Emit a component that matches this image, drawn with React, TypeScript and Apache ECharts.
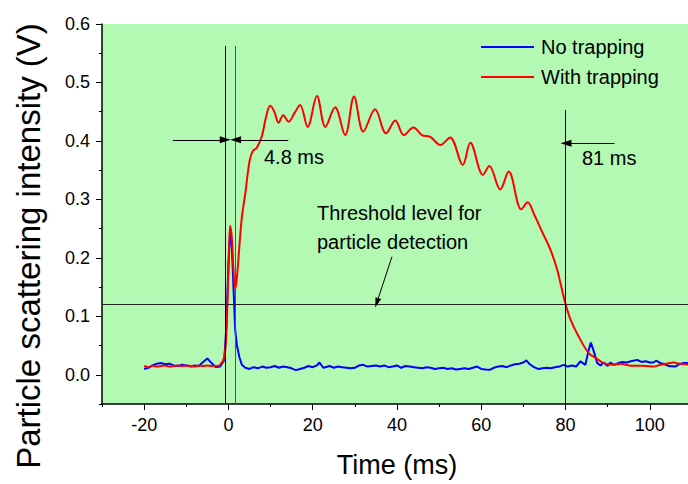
import React, { useEffect, useRef } from "react";
import * as echarts from "echarts";

const blueTime = [
  -20, -19, -18, -17, -16, -15, -14, -13, -12, -11, -10, -9, -8, -7, -6, -5, -4, -3, -2, -1, -0.5, 0, 0.4, 0.8, 1.2, 1.6, 2.0, 2.6, 3.2,
  4, 5, 6, 7, 8, 9, 10, 11, 12, 13, 14, 15, 16, 17, 18, 19, 20, 21, 21.6, 22.5, 23, 24, 25, 26, 27, 28, 29, 30, 31, 32, 33, 34, 35,
  36, 37, 38, 39, 40, 41, 42, 43, 44, 45, 46, 47, 48, 49, 50, 51, 52, 53, 54, 55, 56, 57, 58, 59, 60, 61, 62, 63, 64, 65, 66, 67,
  68, 69, 70, 70.7, 71.5, 72.5, 73.6, 74.5, 75.5, 76.5, 77.5, 78.5, 79.5, 80.5, 81.5, 82.5, 83.5, 84.7, 85.4, 86.0, 86.7, 87.5,
  88.3, 89, 90, 90.6, 91.5, 92.5, 93.5, 94.5, 95.5, 97, 98, 99, 100, 100.8, 101.5, 102.5, 103.5, 104.5, 106, 107, 108, 109, 110,
];
const blueValues = [
  0.010, 0.012, 0.016, 0.019, 0.020, 0.018, 0.019, 0.016, 0.015, 0.017, 0.016, 0.014, 0.016, 0.015, 0.022, 0.028, 0.020, 0.013,
  0.014, 0.025, 0.08, 0.19, 0.24, 0.22, 0.15, 0.077, 0.051, 0.03, 0.017,
  0.012, 0.010, 0.013, 0.011, 0.014, 0.012, 0.013, 0.015, 0.012, 0.014, 0.013, 0.011, 0.008, 0.010, 0.012, 0.015, 0.013, 0.016,
  0.021, 0.012, 0.013, 0.015, 0.012, 0.014, 0.013, 0.012, 0.011, 0.012, 0.016, 0.017, 0.014, 0.015, 0.016,
  0.014, 0.016, 0.013, 0.014, 0.016, 0.012, 0.015, 0.014, 0.013, 0.012, 0.011, 0.013, 0.012, 0.010, 0.011, 0.012, 0.010, 0.011,
  0.009, 0.010, 0.011, 0.010, 0.012, 0.014, 0.010, 0.009, 0.0085, 0.012, 0.014, 0.015, 0.013, 0.016,
  0.018, 0.019, 0.021, 0.0245, 0.018, 0.013, 0.0097, 0.011, 0.012, 0.011, 0.013, 0.014, 0.017, 0.014, 0.016, 0.014, 0.023, 0.017,
  0.04, 0.055, 0.04, 0.02,
  0.016, 0.021, 0.015, 0.021, 0.017, 0.020, 0.022, 0.021, 0.023, 0.0255, 0.022, 0.023, 0.021, 0.021, 0.024, 0.020, 0.018, 0.015,
  0.014, 0.018, 0.020, 0.020, 0.018,
];

const redTime = [
  -20, -19, -18, -17, -16, -15, -14, -13, -12, -11, -10, -9, -8, -7, -6, -5, -4, -3, -2, -1, -0.5, 0, 0.4, 0.8, 1.2, 1.6, 2.0, 2.6,
  3.2, 4.0, 5.0, 5.8, 6.7, 7.9, 8.9, 9.9, 10.9, 11.9, 13.0, 14.3, 15.7, 17.0, 18.8, 21.0, 23.0, 25.3, 27.7, 29.8, 32.0, 34.8, 37.4,
  39.6, 41.6, 43.9, 45.9, 47.9, 50.3, 52.6, 55.6, 57.4, 60.4, 61.9, 64.5, 66.5, 69.5, 71.0, 72.5, 74.4, 76.4, 78.0, 79.0, 80, 81.2,
  83.1, 85.5, 87.5, 89.0, 91.3, 93, 95, 97, 99, 100.8, 102.5, 104, 105.6, 107, 108.5, 110,
];
const redValues = [
  0.015, 0.013, 0.016, 0.014, 0.015, 0.016, 0.014, 0.015, 0.016, 0.015, 0.016, 0.015, 0.014, 0.016, 0.015, 0.016, 0.015, 0.015,
  0.017, 0.03, 0.07, 0.18, 0.255, 0.235, 0.18, 0.147, 0.165, 0.22,
  0.27, 0.31, 0.365, 0.383, 0.388, 0.407, 0.44, 0.46, 0.45, 0.431, 0.444, 0.433, 0.448, 0.4615, 0.424, 0.477, 0.424, 0.4575, 0.41,
  0.476, 0.416, 0.454, 0.413,
  0.435, 0.41, 0.423, 0.41, 0.407, 0.393, 0.406, 0.359, 0.397, 0.342, 0.357, 0.317, 0.3475, 0.283, 0.295, 0.275, 0.245, 0.214,
  0.18, 0.15, 0.121, 0.094,
  0.0655, 0.037, 0.027, 0.02, 0.017, 0.019, 0.016, 0.0155, 0.015, 0.014, 0.017, 0.019, 0.021, 0.019, 0.018, 0.017,
];

const xLabelTicks = [-20, 0, 20, 40, 60, 80, 100];
const xMinorTicks = [-30, -10, 10, 30, 50, 70, 90, 110];
const yLabelTicks = [0, 0.1, 0.2, 0.3, 0.4, 0.5, 0.6];
const yMinorTicks = [-0.05, 0.05, 0.15, 0.25, 0.35, 0.45, 0.55];

const thresholdLevel = 0.12;
const markerLines = [-0.7, 1.5, 80];
const markerTops = [0.5625, 0.5625, 0.453];

const FONT = "'Liberation Sans', Arial, sans-serif";

export default function App() {
  const ref = useRef<HTMLDivElement>(null);
  useEffect(() => {
    document.body.style.margin = "0";
    document.body.style.overflow = "hidden";
    const chart = echarts.init(ref.current!, null, { renderer: "svg" });
    const black = "#000";
    const majorTick = { show: true, inside: false, length: 6, lineStyle: { color: black, width: 1 } };
    const minorTick = { show: true, inside: false, length: 3, lineStyle: { color: black, width: 1 } };

    const option: any = {
      animation: false,
      backgroundColor: "#fff",
      textStyle: { fontFamily: FONT },
      grid: {
        left: 102,
        top: 24,
        width: 590,
        height: 380,
        show: true,
        backgroundColor: "#b3f8b3",
        borderWidth: 0,
      },
      legend: {
        data: [
          { name: "No trapping", icon: "rect" },
          { name: "With trapping", icon: "rect" },
        ],
        orient: "vertical",
        left: 481,
        top: 37,
        itemWidth: 53,
        itemHeight: 2,
        itemGap: 10,
        padding: 0,
        textStyle: { fontSize: 20, color: black, fontFamily: FONT, padding: [0, 0, 0, 2] },
      },
      xAxis: [
        {
          type: "value",
          min: -30,
          max: 110,
          name: "Time (ms)",
          nameLocation: "middle",
          nameGap: 47,
          nameTextStyle: { fontSize: 27, color: black, fontFamily: FONT },
          axisLine: { show: true, onZero: false, lineStyle: { color: black, width: 1.5 } },
          axisTick: { ...majorTick, customValues: xLabelTicks },
          axisLabel: {
            customValues: xLabelTicks,
            fontSize: 18,
            color: black,
            margin: 12,
            fontFamily: FONT,
          },
          splitLine: { show: false },
        },
        {
          type: "value",
          min: -30,
          max: 110,
          position: "bottom",
          axisLine: { show: false, onZero: false },
          axisTick: { ...minorTick, customValues: xMinorTicks },
          axisLabel: { show: false },
          splitLine: { show: false },
        },
      ],
      yAxis: [
        {
          type: "value",
          min: -0.05,
          max: 0.6,
          axisLine: { show: true, onZero: false, lineStyle: { color: black, width: 1.5 } },
          axisTick: { ...majorTick, customValues: yLabelTicks },
          axisLabel: {
            customValues: yLabelTicks,
            fontSize: 18,
            color: black,
            margin: 12,
            fontFamily: FONT,
            formatter: (v: number) => v.toFixed(1),
          },
          splitLine: { show: false },
        },
        {
          type: "value",
          min: -0.05,
          max: 0.6,
          position: "left",
          axisLine: { show: false, onZero: false },
          axisTick: { ...minorTick, customValues: yMinorTicks },
          axisLabel: { show: false },
          splitLine: { show: false },
        },
      ],
      series: [
        {
          name: "No trapping",
          type: "line",
          data: blueTime.map((t, i) => [t, blueValues[i]]),
          symbol: "none",
          lineStyle: { color: "#0000ff", width: 2 },
          itemStyle: { color: "#0000ff" },
          z: 3,
        },
        {
          name: "With trapping",
          type: "line",
          data: redTime.map((t, i) => [t, redValues[i]]),
          symbol: "none",
          smooth: 0.35,
          lineStyle: { color: "#ff0000", width: 2 },
          itemStyle: { color: "#ff0000" },
          z: 4,
        },
        {
          name: "annotations",
          type: "line",
          data: [],
          silent: true,
          z: 5,
          markLine: {
            silent: true,
            animation: false,
            label: { show: false },
            symbol: ["none", "none"],
            data: [
              ...markerLines.map((x, i) => [
                { coord: [x, markerTops[i]], lineStyle: { color: i === 1 ? "#555" : black, width: 1, type: "solid" } },
                { coord: [x, -0.05] },
              ]),
              [
                { coord: [-30, thresholdLevel], lineStyle: { color: "#222", width: 1, type: "solid" } },
                { coord: [110, thresholdLevel] },
              ],
              [
                { coord: [-13.2, 0.402], symbol: "none", lineStyle: { color: black, width: 1, type: "solid" } },
                { coord: [-0.75, 0.402], symbol: "triangle", symbolSize: [7, 11] },
              ],
              [
                { coord: [14.2, 0.402], symbol: "none", lineStyle: { color: black, width: 1, type: "solid" } },
                { coord: [1.7, 0.402], symbol: "triangle", symbolSize: [7, 11] },
              ],
              [
                { coord: [91.6, 0.396], symbol: "none", lineStyle: { color: black, width: 1, type: "solid" } },
                { coord: [80.1, 0.396], symbol: "triangle", symbolSize: [7, 11] },
              ],
              [
                { coord: [38.8, 0.202], symbol: "none", lineStyle: { color: black, width: 1, type: "solid" } },
                { coord: [35.2, 0.123], symbol: "triangle", symbolSize: [6, 10] },
              ],
            ],
          },
        },
      ],
      graphic: [
        {
          type: "text",
          x: 28,
          y: 246,
          rotation: Math.PI / 2,
          style: {
            text: "Particle scattering intensity (V)",
            fontSize: 33,
            fontFamily: FONT,
            fill: black,
            textAlign: "center",
            textVerticalAlign: "middle",
          },
        },
        {
          type: "text",
          x: 264,
          y: 157,
          style: { text: "4.8 ms", fontSize: 20, fontFamily: FONT, fill: black, textVerticalAlign: "middle" },
        },
        {
          type: "text",
          x: 582,
          y: 158,
          style: { text: "81 ms", fontSize: 20, fontFamily: FONT, fill: black, textVerticalAlign: "middle" },
        },
        {
          type: "text",
          x: 317,
          y: 213,
          style: { text: "Threshold level for", fontSize: 20, fontFamily: FONT, fill: black, textVerticalAlign: "middle" },
        },
        {
          type: "text",
          x: 317,
          y: 242,
          style: { text: "particle detection", fontSize: 20, fontFamily: FONT, fill: black, textVerticalAlign: "middle" },
        },
      ],
    };
    chart.setOption(option);
    return () => chart.dispose();
  }, []);
  return <div ref={ref} style={{ position: "fixed", left: 0, top: 0, width: 700, height: 484 }} />;
}
